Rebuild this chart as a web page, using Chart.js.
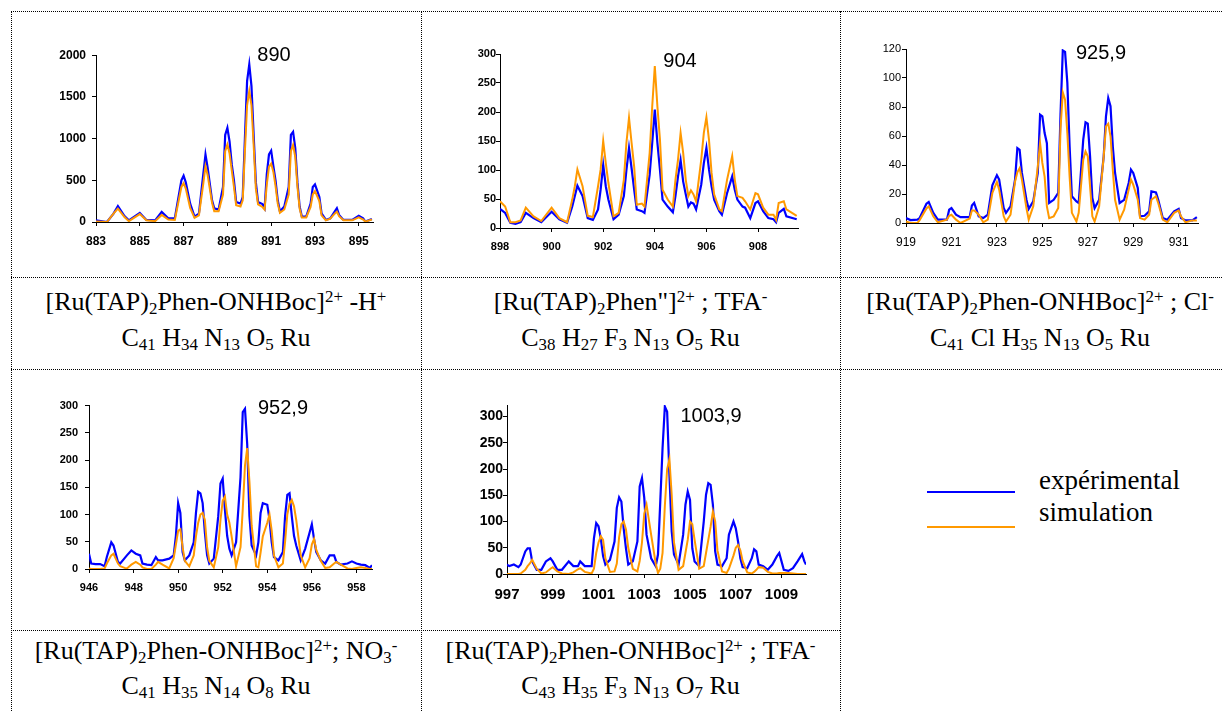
<!DOCTYPE html>
<html lang="fr">
<head>
<meta charset="UTF-8" />
<title>Massifs isotopiques</title>
<script src="https://cdn.jsdelivr.net/npm/chart.js"></script>
<style>
    body { margin:0; background:#fff; width:1222px; height:711px; overflow:hidden; position:relative;
           font-family:"Liberation Serif", "Times New Roman", serif; color:#000; }
    .hl { position:absolute; height:0; border-top:1px dotted #000; }
    .vl { position:absolute; width:0; border-left:1px dotted #000; }
    canvas { position:absolute; }
    .pic { position:absolute; font-family:"Liberation Sans", Arial, sans-serif; font-size:20px; line-height:20px;
           transform:translate(-50%,-50%); white-space:nowrap; }
    .cap { position:absolute; font-size:26px; line-height:26px; text-align:center; white-space:nowrap; }
    .cap sub, .cap sup { font-size:0.65em; line-height:0; position:relative; vertical-align:baseline; }
    .cap sup { top:-0.5em; }
    .cap sub { top:0.25em; }
    .leg { position:absolute; height:2px; width:88px; left:927px; }
    .legt { position:absolute; left:1039px; font-size:27px; line-height:27px; white-space:nowrap; }
</style>
</head>
<body>

<!-- bordures du tableau -->
<div class="hl" style="left:11px;top:11px;width:1211px"></div>
<div class="hl" style="left:11px;top:277px;width:1211px"></div>
<div class="hl" style="left:11px;top:369px;width:1211px"></div>
<div class="hl" style="left:11px;top:630px;width:829px"></div>
<div class="vl" style="left:11px;top:11px;height:700px"></div>
<div class="vl" style="left:421px;top:11px;height:700px"></div>
<div class="vl" style="left:840px;top:11px;height:700px"></div>

<canvas id="c1"></canvas>
<canvas id="c2"></canvas>
<canvas id="c3"></canvas>
<canvas id="c4"></canvas>
<canvas id="c5"></canvas>

<div class="pic" style="left:274px;top:54px">890</div>
<div class="pic" style="left:680px;top:60px">904</div>
<div class="pic" style="left:1101px;top:52px">925,9</div>
<div class="pic" style="left:283px;top:407px">952,9</div>
<div class="pic" style="left:711px;top:415px">1003,9</div>

<!-- légendes des cellules -->
<div class="cap" style="left:11px;width:410px;top:289px">[Ru(TAP)<sub>2</sub>Phen-ONHBoc]<sup>2+</sup> -H<sup>+</sup></div>
<div class="cap" style="left:11px;width:410px;top:325px">C<sub>41</sub> H<sub>34</sub> N<sub>13</sub> O<sub>5</sub> Ru</div>
<div class="cap" style="left:421px;width:419px;top:289px">[Ru(TAP)<sub>2</sub>Phen"]<sup>2+</sup> ; TFA<sup>-</sup></div>
<div class="cap" style="left:421px;width:419px;top:325px">C<sub>38</sub> H<sub>27</sub> F<sub>3</sub> N<sub>13</sub> O<sub>5</sub> Ru</div>
<div class="cap" style="left:840px;width:400px;top:289px">[Ru(TAP)<sub>2</sub>Phen-ONHBoc]<sup>2+</sup> ; Cl<sup>-</sup></div>
<div class="cap" style="left:840px;width:400px;top:325px">C<sub>41</sub> Cl H<sub>35</sub> N<sub>13</sub> O<sub>5</sub> Ru</div>
<div class="cap" style="left:11px;width:410px;top:638px">[Ru(TAP)<sub>2</sub>Phen-ONHBoc]<sup>2+</sup>; NO<sub>3</sub><sup>-</sup></div>
<div class="cap" style="left:11px;width:410px;top:673px">C<sub>41</sub> H<sub>35</sub> N<sub>14</sub> O<sub>8</sub> Ru</div>
<div class="cap" style="left:421px;width:419px;top:638px">[Ru(TAP)<sub>2</sub>Phen-ONHBoc]<sup>2+</sup> ; TFA<sup>-</sup></div>
<div class="cap" style="left:421px;width:419px;top:673px">C<sub>43</sub> H<sub>35</sub> F<sub>3</sub> N<sub>13</sub> O<sub>7</sub> Ru</div>

<!-- légende -->
<div class="leg" style="top:491px;background:#0000ff"></div>
<div class="leg" style="top:526px;background:#ff9900"></div>
<div class="legt" style="top:467px">expérimental</div>
<div class="legt" style="top:499px">simulation</div>

<script>
    // 890
    const mz1 = [883, 883.5, 883.8, 884, 884.3, 884.5, 885, 885.3, 885.7, 886,
        886.3, 886.6, 886.9, 887, 887.1, 887.3, 887.5, 887.7, 887.9, 888,
        888.1, 888.3, 888.4, 888.6, 888.8, 888.9, 889, 889.1, 889.2, 889.3,
        889.4, 889.6, 889.7, 889.8, 889.9, 890, 890.1, 890.2, 890.3, 890.4,
        890.6, 890.7, 890.8, 890.9, 891, 891.1, 891.2, 891.3, 891.4, 891.6,
        891.8, 891.9, 892, 892.1, 892.2, 892.3, 892.4, 892.6, 892.8, 892.9,
        893, 893.2, 893.3, 893.5, 893.7, 893.9, 894, 894.1, 894.3, 894.7,
        895, 895.2, 895.3, 895.6];
    const exp1 = [20, 0, 100, 190, 70, 20, 110, 25, 20, 120,
        45, 45, 500, 555, 475, 220, 65, 100, 575, 810,
        650, 260, 165, 150, 420, 1045, 1130, 965, 690, 500,
        240, 220, 300, 1000, 1690, 1890, 1630, 1040, 475, 240,
        215, 165, 575, 810, 855, 670, 495, 260, 125, 185,
        420, 1045, 1080, 885, 475, 185, 65, 65, 220, 420,
        450, 300, 105, 25, 45, 125, 165, 85, 25, 25,
        75, 45, 5, 35];
    const sim1 = [5, 0, 100, 160, 60, 10, 95, 20, 10, 85,
        30, 25, 420, 465, 400, 170, 50, 80, 460, 670,
        560, 230, 130, 130, 330, 850, 930, 820, 620, 420,
        200, 185, 260, 850, 1400, 1570, 1400, 920, 400, 210,
        180, 150, 450, 660, 700, 600, 430, 220, 110, 150,
        330, 850, 925, 780, 420, 160, 55, 55, 180, 330,
        370, 250, 80, 20, 40, 100, 125, 70, 20, 20,
        55, 30, 5, 30];
    const xTicks1 = [883, 885, 887, 889, 891, 893, 895];
    const yTicks1 = [0, 500, 1000, 1500, 2000];

    // 904
    const mz2 = [898, 898.2, 898.4, 898.6, 898.8, 899, 899.3, 899.6, 900, 900.3,
        900.6, 900.8, 900.9, 901, 901.2, 901.4, 901.6, 901.8, 901.9, 902,
        902.1, 902.2, 902.4, 902.6, 902.8, 902.9, 903, 903.1, 903.2, 903.3,
        903.5, 903.6, 903.8, 903.9, 904, 904.1, 904.2, 904.3, 904.5, 904.7,
        904.8, 904.9, 905, 905.1, 905.2, 905.3, 905.4, 905.5, 905.6, 905.8,
        905.9, 906, 906.1, 906.2, 906.3, 906.5, 906.6, 906.8, 907, 907.1,
        907.2, 907.4, 907.5, 907.7, 907.9, 908, 908.2, 908.4, 908.6, 908.7,
        908.8, 909, 909.1, 909.5];
    const exp2 = [33, 26, 9, 7, 10, 26, 17, 10, 28, 15,
        9, 37, 55, 73, 55, 17, 14, 32, 66, 109,
        72, 49, 15, 23, 55, 100, 138, 103, 66, 32,
        29, 26, 92, 147, 204, 147, 100, 49, 37, 27,
        55, 89, 117, 80, 58, 37, 44, 42, 32, 75,
        112, 138, 101, 72, 49, 29, 23, 60, 89, 66,
        49, 37, 35, 17, 43, 46, 29, 17, 15, 10,
        26, 33, 20, 15];
    const sim2 = [46, 37, 10, 10, 13, 35, 20, 12, 35, 17,
        10, 49, 72, 101, 72, 21, 19, 72, 101, 150,
        112, 78, 20, 26, 83, 147, 190, 147, 106, 40,
        42, 37, 129, 210, 279, 210, 152, 66, 49, 37,
        83, 118, 164, 129, 83, 55, 65, 58, 46, 118,
        164, 191, 152, 95, 58, 32, 29, 83, 124, 83,
        55, 52, 46, 32, 60, 58, 35, 23, 23, 14,
        43, 46, 32, 21];
    const xTicks2 = [898, 900, 902, 904, 906, 908];
    const yTicks2 = [0, 50, 100, 150, 200, 250, 300];

    // 925,9
    const mz3 = [919, 919.2, 919.5, 919.6, 919.9, 920, 920.2, 920.4, 920.8, 920.9,
        921, 921.2, 921.4, 921.8, 921.9, 922, 922.2, 922.4, 922.6, 922.8,
        923, 923.1, 923.3, 923.4, 923.6, 923.8, 923.9, 924, 924.1, 924.3,
        924.4, 924.6, 924.8, 924.9, 925, 925.1, 925.2, 925.3, 925.5, 925.7,
        925.8, 925.9, 926, 926.1, 926.2, 926.3, 926.5, 926.6, 926.8, 926.9,
        927, 927.1, 927.2, 927.3, 927.5, 927.7, 927.8, 927.9, 928, 928.1,
        928.2, 928.4, 928.6, 928.8, 928.9, 929, 929.2, 929.3, 929.5, 929.7,
        929.8, 930, 930.1, 930.3, 930.5, 930.8, 931, 931.1, 931.3, 931.6,
        931.8];
    const exp3 = [3.4, 2, 2.3, 3.4, 13.3, 14.5, 7, 2.3, 2.3, 9.2,
        10.3, 5.7, 4, 4, 12, 13.8, 4.6, 3.4, 5.7, 26,
        33, 30, 10.3, 7, 11.5, 30, 51.7, 50.5, 34.5, 16,
        9.7, 14.9, 34.5, 74.7, 73.6, 62, 55, 13.8, 16, 20.7,
        75, 119, 118, 96.6, 52.9, 18.4, 14.9, 13.8, 57.5, 69.4,
        68.5, 46, 17.2, 10.3, 16, 46, 73.6, 86.2, 80.5, 52.9,
        34.5, 13.8, 16, 27.6, 36.8, 34.5, 24.1, 4.6, 5, 8,
        21.8, 21.1, 16, 3.4, 2.3, 8, 9.7, 3.4, 1.8, 1.8,
        4];
    const sim3 = [1, 0, 0, 2, 10, 11.5, 4.6, 0.5, 2.3, 5,
        5.7, 2.3, 0, 3, 8.7, 8.7, 5.7, 0.5, 2.3, 20.7,
        28.3, 23, 4.6, 1, 5.7, 28.7, 35, 37.9, 30, 10.3,
        2.3, 11.5, 39, 55, 41.4, 32, 11.5, 3.4, 4.6, 10.3,
        65, 90, 85, 62, 32, 7, 1, 7, 43.7, 49.4,
        46, 25.3, 4.6, 1, 11.5, 46, 66.7, 68.5, 59.8, 36.8,
        16, 2.3, 9.2, 23, 30, 26.4, 16, 3.4, 2.3, 5.7,
        16, 18.4, 13.8, 2.3, 0.5, 7, 8.7, 4.6, 0.5, 1.8,
        1.8];
    const xTicks3 = [919, 921, 923, 925, 927, 929, 931];
    const yTicks3 = [0, 20, 40, 60, 80, 100, 120];

    // 952,9
    const mz4 = [946, 946.1, 946.3, 946.5, 946.7, 946.8, 947, 947.1, 947.3, 947.4,
        947.6, 947.7, 947.9, 948.1, 948.3, 948.4, 948.6, 948.8, 949, 949.1,
        949.3, 949.6, 949.8, 949.9, 950, 950.1, 950.2, 950.3, 950.5, 950.7,
        950.8, 950.9, 951, 951.1, 951.2, 951.3, 951.4, 951.6, 951.8, 951.9,
        952, 952.1, 952.2, 952.3, 952.4, 952.6, 952.8, 952.9, 953, 953.1,
        953.2, 953.3, 953.5, 953.6, 953.7, 953.8, 954, 954.1, 954.2, 954.3,
        954.5, 954.7, 954.8, 954.9, 955, 955.1, 955.2, 955.3, 955.5, 955.7,
        955.9, 956, 956.1, 956.2, 956.4, 956.6, 956.8, 957, 957.1, 957.3,
        957.6, 957.8, 958, 958.2, 958.4, 958.6, 958.7];
    const exp4 = [28, 10, 9, 9, 5, 22, 49, 43, 13, 10,
        20, 25, 34, 28, 25, 10, 8, 7, 22, 16,
        16, 19, 25, 61, 121, 103, 31, 16, 25, 49,
        103, 142, 139, 121, 67, 25, 10, 19, 97, 157,
        166, 109, 61, 37, 25, 49, 169, 288, 294, 229,
        97, 43, 25, 49, 103, 121, 118, 91, 49, 22,
        16, 31, 97, 136, 139, 97, 61, 43, 16, 37,
        67, 82, 55, 31, 16, 10, 25, 25, 13, 8,
        10, 14, 10, 8, 7, 2, 7];
    const sim4 = [1, 0, 0, 0, 1, 10, 25, 28, 10, 5,
        2, 1, 8, 13, 8, 3, 0, 0, 8, 13,
        8, 1, 20, 45, 70, 73, 40, 15, 5, 25,
        60, 85, 100, 103, 90, 40, 15, 3, 40, 90,
        125, 133, 100, 85, 60, 5, 40, 110, 190, 222,
        160, 80, 5, 3, 30, 60, 85, 100, 70, 25,
        3, 10, 50, 100, 120, 127, 115, 90, 25, 3,
        20, 45, 55, 35, 15, 2, 3, 10, 13, 8,
        1, 0, 2, 3, 2, 0, 0];
    const xTicks4 = [946, 948, 950, 952, 954, 956, 958];
    const yTicks4 = [0, 50, 100, 150, 200, 250, 300];

    // 1003,9
    const mz5 = [997, 997.1, 997.3, 997.5, 997.6, 997.8, 997.9, 998, 998.1, 998.3,
        998.5, 998.7, 998.9, 999, 999.2, 999.4, 999.7, 999.9, 1000.1, 1000.2,
        1000.4, 1000.7, 1000.8, 1000.9, 1001, 1001.1, 1001.2, 1001.3, 1001.5, 1001.7,
        1001.8, 1001.9, 1002, 1002.1, 1002.2, 1002.3, 1002.5, 1002.7, 1002.8, 1002.9,
        1003, 1003.1, 1003.3, 1003.5, 1003.6, 1003.7, 1003.8, 1003.9, 1004, 1004.1,
        1004.2, 1004.3, 1004.5, 1004.7, 1004.8, 1004.9, 1005, 1005.1, 1005.2, 1005.4,
        1005.6, 1005.7, 1005.8, 1005.9, 1006, 1006.1, 1006.2, 1006.4, 1006.6, 1006.7,
        1006.9, 1007, 1007.1, 1007.2, 1007.3, 1007.5, 1007.7, 1007.8, 1007.9, 1008,
        1008.2, 1008.4, 1008.6, 1008.8, 1008.9, 1009, 1009.1, 1009.3, 1009.5, 1009.7,
        1009.9, 1010, 1010.07];
    const exp5 = [18, 15, 18, 13, 18, 43, 49, 49, 24, 8,
        8, 24, 30, 24, 8, 8, 24, 15, 15, 24,
        15, 15, 68, 97, 91, 68, 34, 18, 27, 62,
        126, 146, 138, 87, 49, 18, 24, 62, 167, 183,
        145, 75, 30, 15, 37, 138, 240, 319, 309, 189,
        81, 37, 18, 75, 132, 157, 141, 49, 24, 15,
        100, 151, 173, 170, 132, 43, 18, 15, 30, 75,
        100, 87, 62, 30, 13, 11, 30, 47, 43, 18,
        15, 8, 18, 34, 40, 24, 8, 6, 11, 24,
        38, 24, 18];
    const sim5 = [0, 0, 0, 0, 1, 8, 15, 20, 27, 10,
        1, 3, 10, 13, 5, 1, 0, 3, 9, 11,
        4, 1, 10, 40, 60, 72, 65, 30, 4, 5,
        20, 70, 95, 100, 85, 50, 10, 5, 25, 60,
        115, 132, 75, 20, 2, 10, 40, 130, 200, 219,
        150, 60, 8, 15, 40, 65, 100, 95, 65, 10,
        15, 40, 65, 90, 119, 100, 45, 5, 2, 10,
        35, 50, 55, 45, 25, 3, 1, 4, 8, 13,
        12, 4, 1, 1, 2, 2, 2, 2, 1, 0,
        0, 0, 0];
    const xTicks5 = [997, 999, 1001, 1003, 1005, 1007, 1009];
    const yTicks5 = [0, 50, 100, 150, 200, 250, 300];

    const BLEU = '#0000ff';
    const ORANGE = '#ff9900';

    function points(mz, ys) {
        return mz.map((x, i) => ({ x: x, y: ys[i] }));
    }

    function axe(min, max, ticks, font, pad, isY) {
        return {
            type: 'linear', min: min, max: max,
            border: { display: true, color: '#000', width: 1 },
            grid: { display: true, drawOnChartArea: false, drawTicks: true, tickLength: 4, color: '#000' },
            ticks: {
                color: '#000', padding: pad, autoSkip: false, maxRotation: 0,
                font: { family: '"Liberation Sans", Arial, sans-serif', size: font.size, weight: font.weight },
                callback: v => String(v)
            },
            afterBuildTicks: s => { s.ticks = ticks.map(v => ({ value: v })); },
            afterFit: s => { if (isY) s.width = 50; else s.height = 30; }
        };
    }

    // zone de tracé en pixels de la page : l, t, r, b
    function spectre(id, zone, mz, exp, sim, xMin, xMax, xTicks, yMax, yTicks, fx, fy, padY) {
        const cv = document.getElementById(id);
        const w = Math.round(zone.r - zone.l) + 70;
        const h = Math.round(zone.b - zone.t) + 50;
        cv.width = w; cv.height = h;
        cv.style.width = w + 'px'; cv.style.height = h + 'px';
        cv.style.left = (zone.l - 60) + 'px';
        cv.style.top = (zone.t - 10) + 'px';
        new Chart(cv, {
            type: 'line',
            data: {
                datasets: [
                    { label: 'expérimental', data: points(mz, exp), borderColor: BLEU, borderWidth: 2.2, order: 1 },
                    { label: 'simulation', data: points(mz, sim), borderColor: ORANGE, borderWidth: 2, order: 0 }
                ]
            },
            options: {
                responsive: false, animation: false, devicePixelRatio: 1,
                layout: { padding: { left: 10, top: 10, right: 10, bottom: 10 } },
                elements: { point: { radius: 0 }, line: { tension: 0, fill: false } },
                plugins: { legend: { display: false }, tooltip: { enabled: false } },
                scales: {
                    x: axe(xMin, xMax, xTicks, fx, 8, false),
                    y: axe(0, yMax, yTicks, fy, padY, true)
                }
            }
        });
    }

    const gras12 = { size: 12, weight: 'bold' };
    const gras11 = { size: 11, weight: 'bold' };

    spectre('c1', { l: 96, t: 52, r: 373, b: 222 }, mz1, exp1, sim1, 883, 895.65, xTicks1, 2000, yTicks1, gras12, gras12, 6);
    spectre('c2', { l: 500, t: 54, r: 798, b: 228 }, mz2, exp2, sim2, 898, 909.55, xTicks2, 300, yTicks2, gras11, gras11, 0);
    spectre('c3', { l: 906, t: 49, r: 1198, b: 223 }, mz3, exp3, sim3, 919, 931.85, xTicks3, 120, yTicks3,
        { size: 12, weight: 'normal' }, { size: 11, weight: 'normal' }, 1);
    spectre('c4', { l: 89, t: 402, r: 372, b: 569 }, mz4, exp4, sim4, 946, 958.7, xTicks4, 300, yTicks4, gras11, gras11, 7);
    spectre('c5', { l: 507, t: 405, r: 806, b: 574 }, mz5, exp5, sim5, 997, 1010.07, xTicks5, 322, yTicks5,
        { size: 15, weight: 'bold' }, { size: 14, weight: 'bold' }, 0);
</script>
</body>
</html>
